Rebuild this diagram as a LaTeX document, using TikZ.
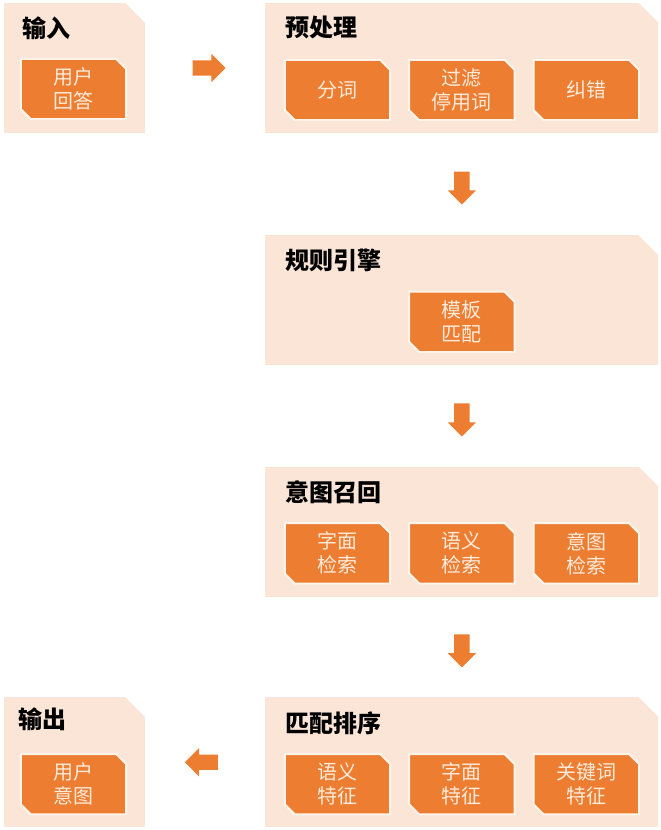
\documentclass[tikz,border=0pt]{standalone}
\usepackage{fontspec}
\setmainfont{Noto Sans CJK SC}
\usepackage{tikz}
\usetikzlibrary{positioning, shapes.arrows, calc, backgrounds}
\definecolor{accentorange}{HTML}{ED7D31}
\definecolor{bgpeach}{HTML}{FBE5D6}
\definecolor{edgecream}{HTML}{FFF4EA}
\definecolor{textcream}{HTML}{FDEBDC}

\begin{document}
\begin{tikzpicture}[
    x=1pt, y=1pt,
    node distance=19pt,
    panel/.style={rectangle, fill=bgpeach, draw=none, inner sep=0pt,
                  minimum width=393pt, minimum height=130pt},
    smallpanel/.style={panel, minimum width=141pt},
    cutcorner/.style={fill=white},
    title/.style={font=\fontsize{24}{28}\selectfont\bfseries, anchor=west,
                  inner sep=0pt},
    itembox/.style={rectangle, minimum width=105pt, minimum height=60pt,
                    inner sep=0pt, text=textcream, align=center,
                    font=\fontsize{20}{24}\selectfont},
    itemshape/.style={fill=accentorange, draw=edgecream, line width=2pt,
                      line join=miter},
    blockarrow/.style={single arrow, fill=accentorange, draw=none,
                       inner sep=7.5pt, single arrow head extend=6.5pt,
                       minimum height=33pt},
]
\useasboundingbox (0,0) rectangle (661,-830);

% === Panels ===
\begin{pgfonlayer}{background}
\node[smallpanel] (input) at (74.5,-68) {};
\node[panel, right=120pt of input] (pre) {};
\node[panel, below=102pt of pre] (rule) {};
\node[panel, below=101pt of rule] (recall) {};
\node[panel, below=100pt of recall] (rank) {};
\node[smallpanel, left=120pt of rank] (output) {};
% snipped corners
\foreach \p in {input, pre, rule, recall, rank, output}
  \fill[cutcorner] (\p.north east) -- ++(-20,0) -- ++(20,-20) -- cycle;
\end{pgfonlayer}

% === Titles ===
\node[title] (inputT)  at ($(input.north west)+(18,-25)$)  {输入};
\node[title] (preT)    at ($(pre.north west)+(20,-25)$)    {预处理};
\node[title] (ruleT)   at ($(rule.north west)+(20,-25)$)   {规则引擎};
\node[title] (recallT) at ($(recall.north west)+(20,-26)$) {意图召回};
\node[title] (rankT)   at ($(rank.north west)+(20,-26)$)   {匹配排序};
\node[title] (outputT) at ($(output.north west)+(14,-22)$) {输出};

% === Input / output ===
\node[itembox] (answer) at ($(input.center)+(-1,-21)$)  {用户\\回答};
\node[itembox] (intent) at ($(output.center)+(-1,-22)$) {用户\\意图};

% === Preprocessing ===
\node[itembox] (filter) at ($(pre.center)+(0,-22)$) {过滤\\停用词};
\node[itembox, left=of filter]  (segment) {分词};
\node[itembox, right=of filter] (correct) {纠错};

% === Rule engine ===
\node[itembox] (template) at ($(rule.center)+(0,-21.5)$) {模板\\匹配};

% === Intent recall ===
\node[itembox] (semsearch) at ($(recall.center)+(0,-21.5)$) {语义\\检索};
\node[itembox, left=of semsearch]  (litsearch) {字面\\检索};
\node[itembox, right=of semsearch] (intsearch) {意图\\检索};

% === Ranking ===
\node[itembox] (litfeat) at ($(rank.center)+(0,-22)$) {字面\\特征};
\node[itembox, left=of litfeat]  (semfeat) {语义\\特征};
\node[itembox, right=of litfeat] (keyfeat) {关键词\\特征};

% === Item shapes (behind the texts) ===
\begin{pgfonlayer}{background}
\foreach \n in {answer, intent, segment, filter, correct, template,
                litsearch, semsearch, intsearch, semfeat, litfeat, keyfeat}
  \path[itemshape] (\n.north west) -- ([xshift=-10pt]\n.north east)
    -- ([yshift=-10pt]\n.north east) -- (\n.south east)
    -- ([xshift=10pt]\n.south west) -- ([yshift=10pt]\n.south west) -- cycle;
\end{pgfonlayer}

% === Arrows ===
\node[blockarrow] (a1) at ($(input.east)!0.5!(pre.west)$) {};
\node[blockarrow, shape border rotate=270] (a2) at ($(pre.south)!0.5!(rule.north)$) {};
\node[blockarrow, shape border rotate=270] (a3) at ($(rule.south)!0.5!(recall.north)$) {};
\node[blockarrow, shape border rotate=270] (a4) at ($(recall.south)!0.5!(rank.north)$) {};
\node[blockarrow, shape border rotate=180] (a5) at ($(rank.west)!0.5!(output.east)$) {};

\end{tikzpicture}
\end{document}
